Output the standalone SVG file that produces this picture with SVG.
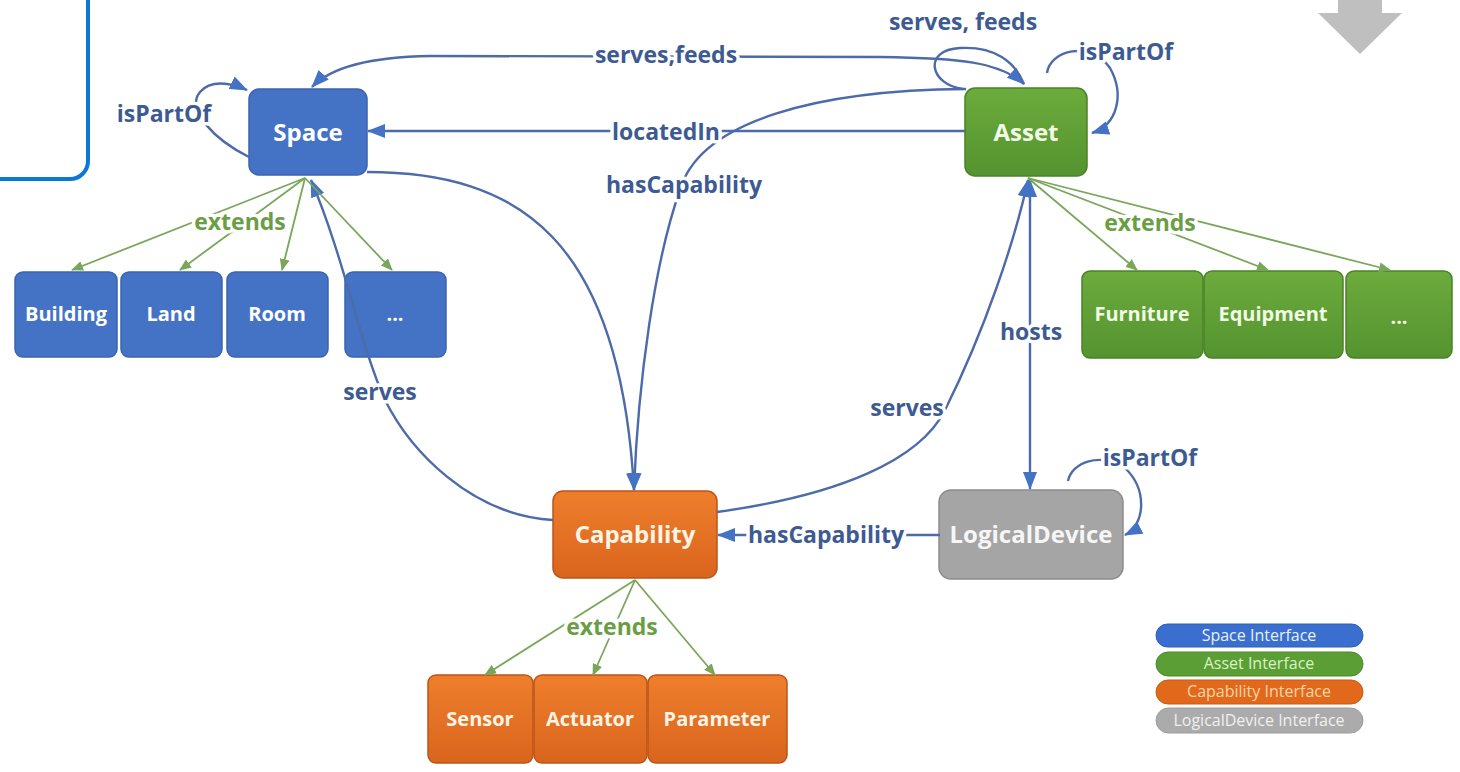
<svg xmlns="http://www.w3.org/2000/svg" width="1460" height="772" viewBox="0 0 1460 772">
<style>
.n text{font-family:"Open Sans","Liberation Sans",sans-serif;font-weight:bold;text-anchor:middle;dominant-baseline:central}
.big{font-size:24px}
.sm{font-size:20px}
.sp rect{fill:#4472c4;stroke:#3a64b0;stroke-width:1.5}
.sp text{fill:#ffffff}
.as rect{fill:url(#gG);stroke:#4a8226;stroke-width:1.5}
.as text{fill:#f2fbe6}
.ca rect{fill:url(#gO);stroke:#b9561a;stroke-width:1.5}
.ca text{fill:#fff4e6}
.ld rect{fill:#a5a5a5;stroke:#8c8c8c;stroke-width:1.5}
.ld text{fill:#f6f6f6}
.c path{fill:none}
.b{stroke:#4d6ba8;stroke-width:2.4}
.g{stroke:#7aa65a;stroke-width:1.8}
.lb{font-family:"Open Sans","Liberation Sans",sans-serif;font-weight:bold;font-size:23px;fill:#3d5a92;text-anchor:middle;dominant-baseline:central;paint-order:stroke;stroke:#ffffff;stroke-width:7;stroke-linejoin:round}
.lg{fill:#6a9e45}
.leg text{font-family:"Open Sans","Liberation Sans",sans-serif;font-size:16px;text-anchor:middle;dominant-baseline:central}
</style>
<defs>
<linearGradient id="gG" x1="0" y1="0" x2="0" y2="1"><stop offset="0" stop-color="#6cab3c"/><stop offset="1" stop-color="#559330"/></linearGradient>
<linearGradient id="gO" x1="0" y1="0" x2="0" y2="1"><stop offset="0" stop-color="#ef7e2c"/><stop offset="1" stop-color="#d9651d"/></linearGradient>
<marker id="ab" markerUnits="userSpaceOnUse" markerWidth="18" markerHeight="14" viewBox="0 0 18 14" refX="17" refY="7" orient="auto-start-reverse"><path d="M0,0 L18,7 L0,14 Z" fill="#4472c4"/></marker>
<marker id="ag" markerUnits="userSpaceOnUse" markerWidth="12" markerHeight="10" viewBox="0 0 12 10" refX="11" refY="5" orient="auto"><path d="M0,0 L12,5 L0,10 Z" fill="#7aa65a"/></marker>
</defs>
<rect width="1460" height="772" fill="#ffffff"/>
<rect x="-30" y="-30" width="118" height="209" rx="18" fill="none" stroke="#0a78d7" stroke-width="4"/>
<polygon points="1338,0 1382,0 1382,13 1402,13 1360,54 1318,13 1338,13" fill="#bfbfbf"/>

<g id="space" class="n sp"><rect x="249" y="89" width="118" height="86" rx="10"/><text class="big" x="308" y="131">Space</text></g>
<g id="building" class="n sp"><rect x="15" y="272" width="102" height="85" rx="8"/><text class="sm" x="66" y="313">Building</text></g>
<g id="land" class="n sp"><rect x="121" y="272" width="101" height="85" rx="8"/><text class="sm" x="171" y="313">Land</text></g>
<g id="room" class="n sp"><rect x="227" y="272" width="101" height="85" rx="8"/><text class="sm" x="277" y="313">Room</text></g>
<g id="space-more" class="n sp"><rect x="345" y="272" width="101" height="85" rx="8"/><text class="sm" x="395" y="313">...</text></g>

<g id="asset" class="n as"><rect x="965" y="88" width="122" height="88" rx="10"/><text class="big" x="1026" y="131">Asset</text></g>
<g id="furniture" class="n as"><rect x="1082" y="271" width="121" height="87" rx="8"/><text class="sm" x="1142" y="313">Furniture</text></g>
<g id="equipment" class="n as"><rect x="1204" y="271" width="139" height="87" rx="8"/><text class="sm" x="1273" y="313">Equipment</text></g>
<g id="asset-more" class="n as"><rect x="1346" y="271" width="106" height="87" rx="8"/><text class="sm" x="1399" y="316">...</text></g>

<g id="capability" class="n ca"><rect x="553" y="491" width="164" height="87" rx="10"/><text class="big" x="635" y="533">Capability</text></g>
<g id="sensor" class="n ca"><rect x="428" y="675" width="105" height="88" rx="8"/><text class="sm" x="480" y="718">Sensor</text></g>
<g id="actuator" class="n ca"><rect x="534" y="675" width="113" height="88" rx="8"/><text class="sm" x="590" y="718">Actuator</text></g>
<g id="parameter" class="n ca"><rect x="648" y="675" width="139" height="88" rx="8"/><text class="sm" x="717" y="718">Parameter</text></g>

<g id="logicaldevice" class="n ld"><rect x="939" y="490" width="184" height="89" rx="12"/><text class="big" x="1031" y="533">LogicalDevice</text></g>

<g id="connectors" class="c">
<path class="b" d="M 312 87 C 330 68 370 57 430 56 L 880 57 C 960 58 1000 62 1024 84" marker-start="url(#ab)" marker-end="url(#ab)"/>
<path class="b" d="M 963 89 C 930 85 922 50 960 48 C 995 46 1015 62 1024 84"/>
<path class="b" d="M 965 131 L 368 131" marker-end="url(#ab)"/>
<path class="b" d="M 966 89 C 820 90 700 120 680 190 C 655 260 638 380 634 490" marker-end="url(#ab)"/>
<path class="b" d="M 367 172 C 520 172 620 240 634 490" marker-end="url(#ab)"/>
<path class="b" d="M 249 157 C 215 140 185 110 200 92 C 210 80 230 82 247 90" marker-end="url(#ab)"/>
<path class="b" d="M 1047 73 C 1050 50 1090 40 1110 68 C 1125 95 1117 125 1092 133" marker-end="url(#ab)"/>
<path class="b" d="M 1068 481 C 1072 462 1100 452 1125 468 C 1148 490 1145 525 1125 535" marker-end="url(#ab)"/>
<path class="b" d="M 1030 180 L 1030 489" marker-start="url(#ab)" marker-end="url(#ab)"/>
<path class="b" d="M 717 512 C 840 495 920 460 945 410 C 985 330 1015 240 1028 180" marker-end="url(#ab)"/>
<path class="b" d="M 553 520 C 470 515 410 450 385 400 C 360 345 345 260 311 180" marker-end="url(#ab)"/>
<path class="b" d="M 940 535 L 718 535" marker-end="url(#ab)"/>
<path class="g" d="M 305 178 L 72 270" marker-end="url(#ag)"/>
<path class="g" d="M 305 178 L 180 270" marker-end="url(#ag)"/>
<path class="g" d="M 305 178 L 282 270" marker-end="url(#ag)"/>
<path class="g" d="M 305 178 L 392 270" marker-end="url(#ag)"/>
<path class="g" d="M 1028 178 L 1137 270" marker-end="url(#ag)"/>
<path class="g" d="M 1028 178 L 1268 270" marker-end="url(#ag)"/>
<path class="g" d="M 1028 178 L 1390 270" marker-end="url(#ag)"/>
<path class="g" d="M 635 580 L 485 675" marker-end="url(#ag)"/>
<path class="g" d="M 635 580 L 593 675" marker-end="url(#ag)"/>
<path class="g" d="M 635 580 L 715 675" marker-end="url(#ag)"/>
<text class="lb" x="666" y="54">serves,feeds</text>
<text class="lb" x="963" y="21">serves, feeds</text>
<text class="lb" x="666" y="131">locatedIn</text>
<text class="lb" x="684" y="184">hasCapability</text>
<text class="lb" x="164" y="113">isPartOf</text>
<text class="lb" x="1126" y="51">isPartOf</text>
<text class="lb" x="1150" y="457">isPartOf</text>
<text class="lb" x="1031" y="331">hosts</text>
<text class="lb" x="907" y="407">serves</text>
<text class="lb" x="380" y="391">serves</text>
<text class="lb" x="826" y="534">hasCapability</text>
<text class="lb lg" x="240" y="221">extends</text>
<text class="lb lg" x="1150" y="222">extends</text>
<text class="lb lg" x="612" y="626">extends</text>
</g>

<g id="legend" class="leg">
<rect x="1156" y="624" width="207" height="23" rx="11.5" fill="#3a6fd0" stroke="#2f5eb8"/><text x="1259" y="635" fill="#e8f0ff">Space Interface</text>
<rect x="1156" y="652" width="207" height="24" rx="12" fill="#5c9e36" stroke="#4b8a2a"/><text x="1259" y="663" fill="#d9f3c4">Asset Interface</text>
<rect x="1156" y="680" width="207" height="24" rx="12" fill="#e2691c" stroke="#c95a14"/><text x="1259" y="691" fill="#ffd3a8">Capability Interface</text>
<rect x="1156" y="708" width="207" height="25" rx="12.5" fill="#ababab" stroke="#9c9c9c"/><text x="1259" y="720" fill="#f0f0f0">LogicalDevice Interface</text>
</g>
</svg>
